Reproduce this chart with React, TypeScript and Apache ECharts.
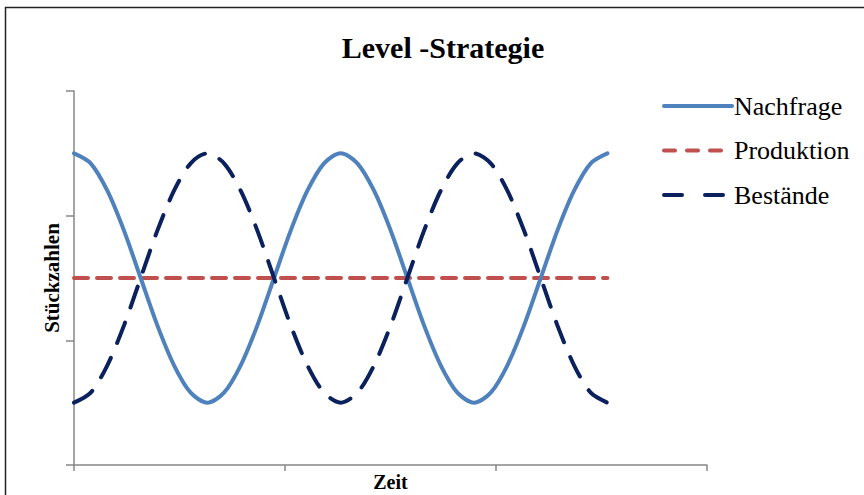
import React, { useEffect, useRef } from "react";
import * as echarts from "echarts";

const xValues = [
  0, 0.395, 0.79, 1.185, 1.58, 1.975, 2.37, 2.765, 3.16, 3.555, 3.95, 4.345, 4.74, 5.135, 5.53, 5.925, 6.32,
  6.715, 7.11, 7.505, 7.9, 8.295, 8.69, 9.085, 9.48, 9.875, 10.27, 10.665, 11.06, 11.455, 11.85, 12.245, 12.64,
];
const nachfrage = [
  2.5, 2.42, 2.2, 1.88, 1.5, 1.12, 0.8, 0.58, 0.5, 0.58, 0.8, 1.12, 1.5, 1.88, 2.2, 2.42, 2.5,
  2.42, 2.2, 1.88, 1.5, 1.12, 0.8, 0.58, 0.5, 0.58, 0.8, 1.12, 1.5, 1.88, 2.2, 2.42, 2.5,
];
const produktion = [
  1.5, 1.5, 1.5, 1.5, 1.5, 1.5, 1.5, 1.5, 1.5, 1.5, 1.5, 1.5, 1.5, 1.5, 1.5, 1.5, 1.5,
  1.5, 1.5, 1.5, 1.5, 1.5, 1.5, 1.5, 1.5, 1.5, 1.5, 1.5, 1.5, 1.5, 1.5, 1.5, 1.5,
];
const bestaende = [
  0.5, 0.58, 0.8, 1.12, 1.5, 1.88, 2.2, 2.42, 2.5, 2.42, 2.2, 1.88, 1.5, 1.12, 0.8, 0.58, 0.5,
  0.58, 0.8, 1.12, 1.5, 1.88, 2.2, 2.42, 2.5, 2.42, 2.2, 1.88, 1.5, 1.12, 0.8, 0.58, 0.5,
];
const seriesNames = ["Nachfrage", "Produktion", "Bestände"];

const FONT = "'Liberation Serif', 'Times New Roman', serif";
const AXIS_COLOR = "#878787";
const COLORS = ["#4F81BD", "#C0504D", "#0B215E"];

function pairs(ys: number[]) {
  return xValues.map((x, i) => [x, ys[i]]);
}

export default function App() {
  const ref = useRef<HTMLDivElement>(null);
  useEffect(() => {
    if (!ref.current) return;
    const chart = echarts.init(ref.current, null, { renderer: "svg" });
    chart.setOption({
      animation: false,
      backgroundColor: "#ffffff",
      graphic: [
        {
          type: "rect",
          shape: { x: 5.5, y: 7.5, width: 920, height: 600 },
          style: { fill: "none", stroke: "#222", lineWidth: 1.5 },
          silent: true,
        },
        {
          type: "text",
          x: 443,
          y: 47,
          style: {
            text: "Level -Strategie",
            font: `bold 30px ${FONT}`,
            fill: "#000",
            textAlign: "center",
            textVerticalAlign: "middle",
          },
        },
      ],
      grid: { left: 74, top: 91, right: 157, bottom: 30, containLabel: false, outerBoundsMode: "none" },
      legend: {
        orient: "vertical",
        left: 657,
        top: 88,
        itemWidth: 68,
        itemHeight: 14,
        itemGap: 18.5,
        data: [
          { name: seriesNames[0], lineStyle: { width: 4, cap: "round", type: "solid", color: COLORS[0] } },
          { name: seriesNames[1], lineStyle: { width: 4, cap: "round", type: [11, 12], color: COLORS[1] } },
          { name: seriesNames[2], lineStyle: { width: 4, cap: "round", type: [18, 23], color: COLORS[2] } },
        ],
        itemStyle: { opacity: 0 },
        textStyle: { fontFamily: FONT, fontSize: 26, color: "#000", padding: [0, 0, 0, -3] },
      },
      xAxis: {
        type: "value",
        min: 0,
        max: 15,
        interval: 5,
        name: "Zeit",
        nameLocation: "middle",
        nameGap: 7,
        nameTextStyle: { fontFamily: FONT, fontSize: 20, fontWeight: "bold", color: "#000", verticalAlign: "top" },
        axisLine: { show: true, lineStyle: { color: AXIS_COLOR, width: 1.5 } },
        axisTick: { show: true, length: 6, lineStyle: { color: AXIS_COLOR, width: 1.5 } },
        axisLabel: { show: false },
        splitLine: { show: false },
      },
      yAxis: {
        type: "value",
        min: 0,
        max: 3,
        interval: 1,
        name: "Stückzahlen",
        nameLocation: "middle",
        nameGap: 12,
        nameRotate: 90,
        nameTextStyle: { fontFamily: FONT, fontSize: 21, fontWeight: "bold", color: "#000" },
        axisLine: { show: true, lineStyle: { color: AXIS_COLOR, width: 1.5 } },
        axisTick: { show: true, length: 8, lineStyle: { color: AXIS_COLOR, width: 1.5 } },
        axisLabel: { show: false },
        splitLine: { show: false },
      },
      series: [
        {
          name: seriesNames[0],
          type: "line",
          data: pairs(nachfrage),
          smooth: 0.3,
          symbol: "none",
          color: COLORS[0],
          lineStyle: { color: COLORS[0], width: 4, cap: "round" },
          z: 3,
        },
        {
          name: seriesNames[1],
          type: "line",
          data: pairs(produktion),
          symbol: "none",
          color: COLORS[1],
          lineStyle: { color: COLORS[1], width: 4, type: [14, 9], cap: "round" },
          z: 2,
        },
        {
          name: seriesNames[2],
          type: "line",
          data: pairs(bestaende),
          smooth: 0.3,
          symbol: "none",
          color: COLORS[2],
          lineStyle: { color: COLORS[2], width: 4, type: [22, 16], cap: "round" },
          z: 4,
        },
      ],
    });
    return () => chart.dispose();
  }, []);
  return (
    <div
      ref={ref}
      style={{ position: "fixed", left: 0, top: 0, width: 864, height: 495 }}
    />
  );
}
